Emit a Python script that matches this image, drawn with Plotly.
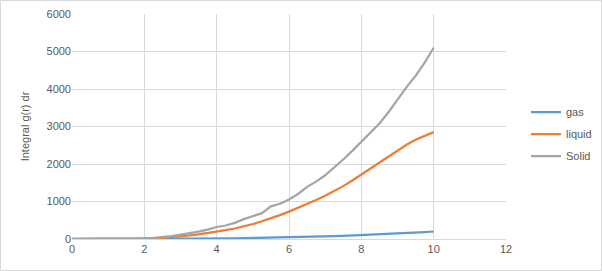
import plotly.graph_objects as go

r = [i * 0.25 for i in range(41)]
gas = [0, 0, 0, 0.1, 0.2, 0.4, 0.7, 1.1, 1.6, 2.3, 3.1, 4.2, 5.4, 6.9, 8.6, 10.5, 12.8,
       15.4, 18.2, 21.4, 25, 29, 33, 38, 43, 49, 55, 62, 69, 76, 84, 93, 102, 112, 123,
       134, 146, 158, 171, 185, 200]
liquid = [0, 0, 0, 0, 0, 1, 3, 6, 11, 18, 30, 48, 72, 97, 125, 158, 195, 235, 280, 337,
          400, 472, 550, 637, 730, 828, 932, 1040, 1155, 1280, 1410, 1560, 1720, 1885, 2050,
          2212, 2370, 2515, 2645, 2755, 2850]
solid = [0, 0, 0, 0, 1, 3, 7, 12, 20, 32, 50, 80, 115, 150, 195, 250, 320, 360, 430, 530,
         605, 690, 870, 940, 1055, 1200, 1390, 1530, 1700, 1900, 2120, 2350, 2600, 2850, 3080,
         3380, 3720, 4050, 4350, 4700, 5100]

series = [("gas", gas, "#5B9BD5"), ("liquid", liquid, "#ED7D31"), ("Solid", solid, "#A5A5A5")]

fig = go.Figure()
for name, vals, col in series:
    fig.add_trace(go.Scatter(x=r, y=vals, mode="lines", name=name, legendgroup=name,
                             line=dict(color=col, width=2.25)))

W, H = 602, 271
ml, mr, mt, mb = 72, 96, 14, 32
pw, ph = W - ml - mr, H - mt - mb

fig.update_layout(
    width=W, height=H,
    margin=dict(l=ml, r=mr, t=mt, b=mb, autoexpand=False),
    paper_bgcolor="white", plot_bgcolor="white",
    font=dict(family="Liberation Sans, Arial", size=11, color="#595959"),
    showlegend=True,
    legend=dict(x=(526 - ml) / pw, y=(H - mb - 134) / ph, xanchor="left", yanchor="middle",
                font=dict(size=11, color="#595959"), bgcolor="rgba(0,0,0,0)",
                tracegroupgap=3, itemwidth=30),
    xaxis=dict(range=[0, 12], dtick=2, showgrid=True, gridcolor="#d9d9d9", gridwidth=1,
               zeroline=False, showline=True, linecolor="#d9d9d9", ticks="",
               tickfont=dict(size=11, color="#595959")),
    yaxis=dict(range=[0, 6000], dtick=1000, showgrid=True, gridcolor="#d9d9d9", gridwidth=1,
               zeroline=False, showline=False, ticks="",
               tickfont=dict(size=11, color="#595959"),
               title=dict(text="Integral g(r) dr", font=dict(size=11, color="#595959"), standoff=14)),
    shapes=[dict(type="rect", xref="paper", yref="paper",
                 x0=(0.5 - ml) / pw, x1=(W - 0.5 - ml) / pw,
                 y0=(H - mb - (H - 0.5)) / ph, y1=(H - mb - 0.5) / ph,
                 line=dict(color="#d9d9d9", width=1), fillcolor="rgba(0,0,0,0)")],
)

fig.write_html("out.html")
